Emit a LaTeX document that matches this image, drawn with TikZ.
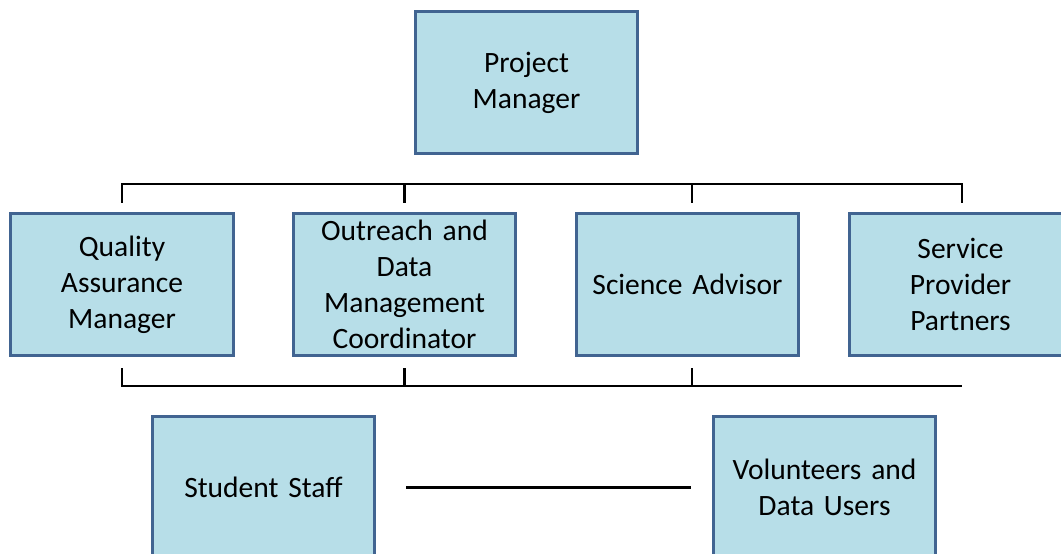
\documentclass[tikz,border=0pt]{standalone}
\usepackage{fontspec}
\setmainfont{Carlito}
\usetikzlibrary{calc}
\definecolor{boxfill}{RGB}{183,222,232}
\definecolor{boxedge}{RGB}{65,100,145}
\tikzset{
    rolebox/.style={draw=boxedge, line width=1.7pt, fill=boxfill, inner sep=0pt,
        minimum width=4.46cm, minimum height=2.86cm, text width=4.3cm, align=center,
        font=\fontsize{16.8}{20.6}\selectfont},
    link/.style={black, line width=1.3pt}
}
\begin{document}
\begin{tikzpicture}[x=0.02cm, y=-0.02cm]
    \useasboundingbox (0,0) rectangle (1061,554);
    \clip (0,0) rectangle (1061,554);

    % Top
    \node[rolebox] (pm) at (526.5,82.5) {Project\\Manager};

    % Middle row
    \node[rolebox] (qa) at (122,284.5) {Quality\\Assurance\\Manager};
    \node[rolebox] (od) at (404.5,284.5) {Outreach and\\Data\\Management\\Coordinator};
    \node[rolebox] (sa) at (687.5,284.5) {Science Advisor};
    \node[rolebox] (sp) at (960.5,284.5) {Service\\Provider\\Partners};

    % Bottom row
    \node[rolebox] (ss) at (263.5,487.5) {Student Staff};
    \node[rolebox] (vd) at (824.5,487.5) {Volunteers and\\Data Users};

    % Upper bracket
    \coordinate (upbar) at (0,184);
    \draw[link] ($(qa.north)+(0,-9)$) -- (qa.north |- upbar) -- ($(sp.north |- upbar)+(1.5,0)$) -- ($(sp.north)+(1.5,-9)$);
    \draw[link] ($(od.north)+(0,-9)$) -- (od.north |- upbar);
    \draw[link] ($(sa.north)+(4.5,-9)$) -- ($(sa.north |- upbar)+(4.5,0)$);

    % Lower bracket
    \coordinate (lowbar) at (0,386);
    \draw[link] ($(qa.south)+(0,11)$) -- (qa.south |- lowbar) -- ($(sp.south |- lowbar)+(1.5,0)$);
    \draw[link] ($(od.south)+(0,11)$) -- (od.south |- lowbar);
    \draw[link] ($(sa.south)+(4.5,11)$) -- ($(sa.south |- lowbar)+(4.5,0)$);

    % Link between bottom boxes
    \draw[link] ($(ss.east)+(30,0)$) -- ($(vd.west)+(-21,0)$);
\end{tikzpicture}
\end{document}
